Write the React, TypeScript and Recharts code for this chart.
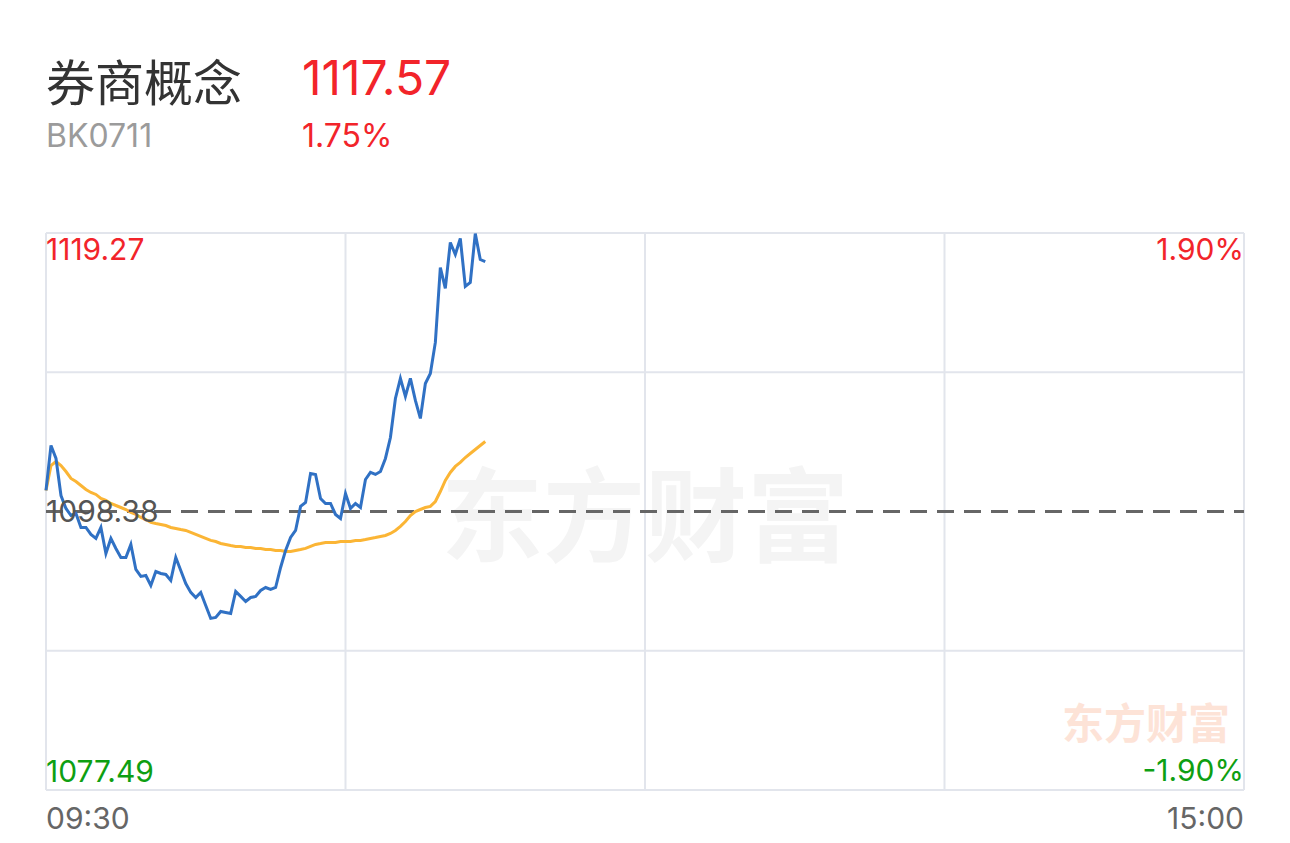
import React from "react";
import { LineChart, Line, XAxis, YAxis, ReferenceLine } from "recharts";

// 分时数据：每分钟一个点，09:30 起
const priceValues = [
  1099.96, 1103.33, 1102.36, 1099.58, 1098.61, 1098.08, 1098.23, 1097.18, 1097.18, 1096.66,
  1096.36, 1097.18, 1095.23, 1096.36, 1095.61, 1094.93, 1094.93, 1095.91, 1094.03, 1093.51,
  1093.58, 1092.83, 1093.88, 1093.73, 1093.66, 1093.21, 1094.93, 1093.96, 1092.98, 1092.31,
  1091.93, 1092.31, 1091.33, 1090.36, 1090.43, 1090.88, 1090.81, 1090.73, 1092.38, 1092.01,
  1091.63, 1091.93, 1092.01, 1092.46, 1092.68, 1092.53, 1092.68, 1094.18, 1095.46, 1096.43,
  1096.96, 1098.76, 1099.06, 1101.23, 1101.16, 1099.36, 1098.98, 1098.98, 1098.16, 1097.86,
  1099.73, 1098.61, 1098.98, 1098.68, 1100.78, 1101.31, 1101.16, 1101.38, 1102.36, 1103.93,
  1106.86, 1108.36, 1107.01, 1108.36, 1106.71, 1105.36, 1107.98, 1108.73, 1111.06, 1116.68,
  1115.11, 1118.56, 1117.66, 1118.86, 1115.26, 1115.56, 1119.23, 1117.28, 1117.13,
];

// 均价线
const avgValues = [
  1099.96, 1101.83, 1102.13, 1101.83, 1101.38, 1100.86, 1100.63, 1100.33, 1100.03, 1099.81,
  1099.66, 1099.36, 1099.21, 1098.98, 1098.83, 1098.68, 1098.53, 1098.31, 1098.16, 1097.93,
  1097.78, 1097.56, 1097.48, 1097.41, 1097.33, 1097.18, 1097.11, 1097.03, 1096.96, 1096.81,
  1096.66, 1096.51, 1096.36, 1096.21, 1096.13, 1095.98, 1095.91, 1095.83, 1095.76, 1095.76,
  1095.68, 1095.68, 1095.61, 1095.61, 1095.53, 1095.53, 1095.46, 1095.46, 1095.38, 1095.38,
  1095.46, 1095.53, 1095.61, 1095.76, 1095.91, 1095.98, 1096.06, 1096.06, 1096.06, 1096.13,
  1096.13, 1096.13, 1096.21, 1096.21, 1096.28, 1096.36, 1096.43, 1096.51, 1096.58, 1096.73,
  1096.96, 1097.26, 1097.63, 1098.08, 1098.38, 1098.53, 1098.68, 1098.76, 1099.13, 1099.88,
  1100.71, 1101.31, 1101.76, 1102.06, 1102.43, 1102.73, 1103.03, 1103.33, 1103.63,
];

const preClose = 1098.38;
const yMax = 1119.27;
const yMin = 1077.49;
const yGrid = [1108.825, 1087.935];
const xGridMinutes = [60, 120, 180];
const totalMinutes = 240;

const name = "券商概念";
const code = "BK0711";
const lastPrice = "1117.57";
const changePct = "1.75%";
const timeLabels = ["09:30", "15:00"];

const RED = "#f2242a";
const GREEN = "#0e9f12";
const GRID = "#e2e5ec";
const NUM_FONT = "Inter, 'Noto Sans CJK SC', sans-serif";

const chartData = priceValues.map((p, i) => ({ i, price: p, avg: avgValues[i] }));

const txt = (style: React.CSSProperties): React.CSSProperties => ({
  position: "absolute",
  whiteSpace: "nowrap",
  fontFamily: NUM_FONT,
  ...style,
});

export default function App() {
  return (
    <div
      style={{
        position: "absolute",
        left: 0,
        top: 0,
        width: 1290,
        height: 843,
        background: "#fff",
        overflow: "hidden",
      }}
    >
      {/* 头部 */}
      <div style={txt({ left: 46, top: 55, fontSize: 49, lineHeight: "49px", color: "#333", fontFamily: "'Noto Sans CJK SC', sans-serif" })}>
        {name}
      </div>
      <div style={txt({ left: 302, top: 54, fontSize: 48, lineHeight: "48px", color: RED })}>{lastPrice}</div>
      <div style={txt({ left: 46, top: 120, fontSize: 32, lineHeight: "32px", color: "#9b9b9b" })}>{code}</div>
      <div style={txt({ left: 302, top: 120, fontSize: 32, lineHeight: "32px", color: RED })}>{changePct}</div>

      {/* 水印 */}
      <div style={txt({ left: 0, width: 1290, top: 459, textAlign: "center", fontSize: 102, lineHeight: "102px", fontWeight: 700, color: "#f4f4f4", fontFamily: "'Noto Sans CJK SC', sans-serif" })}>
        东方财富
      </div>
      <div style={txt({ right: 60, top: 700, fontSize: 42, lineHeight: "42px", fontWeight: 700, color: "#fde3d7", fontFamily: "'Noto Sans CJK SC', sans-serif" })}>
        东方财富
      </div>

      <div style={{ position: "absolute", left: 0, top: 0 }}>
        <LineChart width={1290} height={843} data={chartData} margin={{ top: 233, right: 46, bottom: 53, left: 46 }}>
          <XAxis hide type="number" dataKey="i" domain={[0, totalMinutes]} />
          <YAxis hide domain={[yMin, yMax]} allowDataOverflow />
          {xGridMinutes.map((m) => (
            <ReferenceLine key={`vx-${m}`} x={m} stroke={GRID} strokeWidth={2} />
          ))}
          {yGrid.map((v) => (
            <ReferenceLine key={`hy-${v}`} y={v} stroke={GRID} strokeWidth={2} />
          ))}
          <ReferenceLine x={0} stroke={GRID} strokeWidth={2} />
          <ReferenceLine x={totalMinutes} stroke={GRID} strokeWidth={2} />
          <ReferenceLine y={yMax} stroke={GRID} strokeWidth={2} />
          <ReferenceLine y={yMin} stroke={GRID} strokeWidth={2} />
          <ReferenceLine y={preClose} stroke="#666" strokeWidth={3} strokeDasharray="17 10" />
          <Line type="linear" dataKey="avg" stroke="#fbb535" strokeWidth={3} dot={false} isAnimationActive={false} />
          <Line type="linear" dataKey="price" stroke="#3071c4" strokeWidth={3} dot={false} isAnimationActive={false} />
        </LineChart>
      </div>

      {/* 坐标标签 */}
      <div style={txt({ left: 46, top: 234, fontSize: 30, lineHeight: "30px", color: RED })}>{yMax.toFixed(2)}</div>
      <div style={txt({ right: 46, top: 234, fontSize: 30, lineHeight: "30px", color: RED })}>1.90%</div>
      <div style={txt({ left: 46, top: 496, fontSize: 30, lineHeight: "30px", color: "#555" })}>{preClose.toFixed(2)}</div>
      <div style={txt({ left: 46, top: 756, fontSize: 30, lineHeight: "30px", color: GREEN })}>{yMin.toFixed(2)}</div>
      <div style={txt({ right: 46, top: 755, fontSize: 30, lineHeight: "30px", color: GREEN })}>-1.90%</div>
      <div style={txt({ left: 46, top: 803, fontSize: 30, lineHeight: "30px", color: "#666" })}>{timeLabels[0]}</div>
      <div style={txt({ right: 46, top: 803, fontSize: 30, lineHeight: "30px", color: "#666" })}>{timeLabels[1]}</div>
    </div>
  );
}
